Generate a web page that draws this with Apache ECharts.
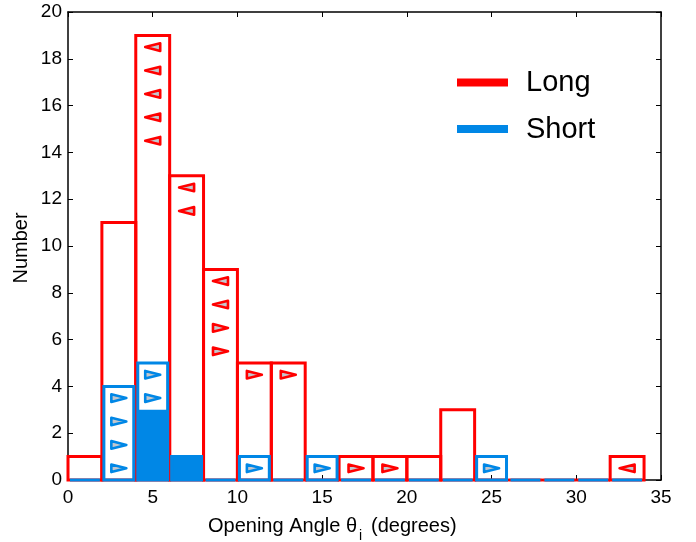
<!DOCTYPE html>
<html><head><meta charset="utf-8">
<script src="https://cdn.jsdelivr.net/npm/echarts@6.0.0/dist/echarts.min.js"></script>
<style>html,body{margin:0;padding:0;background:#fff}#c{width:696px;height:542px}</style>
</head><body><div id="c"></div>
<script>
// Histogram bins (degrees), width 2
const binStarts = [0,2,4,6,8,10,12,14,16,18,20,22,24,26,28,30,32];
const binWidth = 2;
const longCounts    = [1,11,19,13,9,5,5,0,1,1,1,3,0,0,0,0,1];
const shortCounts   = [0,4,5,1,0,1,0,1,0,0,0,0,1,0,0,0,0];
const shortDetected = [0,0,3,1,0,0,0,0,0,0,0,0,0,0,0,0,0];
// Limit markers (x = bin centre, y = height, dir L/R)
const longLimitX   = [5,5,5,5,5,7,7,9,9,9,9,11,13,17,19,33];
const longLimitY   = [18.5,17.5,16.5,15.5,14.5,12.5,11.5,8.5,7.5,6.5,5.5,4.5,4.5,0.5,0.5,0.5];
const longLimitDir = ['L','L','L','L','L','L','L','L','L','R','R','R','R','R','R','L'];
const shortLimitX   = [3,3,3,3,5,5,11,15,25];
const shortLimitY   = [3.5,2.5,1.5,0.5,4.5,3.5,0.5,0.5,0.5];
const shortLimitDir = ['R','R','R','R','R','R','R','R','R'];
const xTicks = [0,5,10,15,20,25,30,35];
const yTicks = [0,2,4,6,8,10,12,14,16,18,20];

const RED = '#ff0000', BLUE = '#0087e6', FONT = '"Liberation Sans", Arial, sans-serif';

function barData(counts){ return binStarts.map((s,i)=>[s, s+binWidth, counts[i]]); }
function barRender(stroke, fill, inset, lw){
  return function(params, api){
    const p0 = api.coord([api.value(0), 0]);
    const p1 = api.coord([api.value(1), api.value(2)]);
    return {type:'rect', shape:{x:p0[0]+inset, y:p1[1], width:p1[0]-p0[0]-2*inset, height:p0[1]-p1[1]},
      style:{fill:fill, stroke:stroke, lineWidth:lw}};
  };
}
function arrowData(xs, ys, ds){ return xs.map((x,i)=>[x, ys[i], ds[i]==='L'?-1:1]); }
function arrowRender(stroke){
  return function(params, api){
    const c = api.coord([api.value(0), api.value(1)]);
    const d = api.value(2);
    const tip = c[0] + d*7.5, base = c[0] - d*7.5;
    return {type:'polygon', shape:{points:[[tip,c[1]],[base,c[1]-3.8],[base,c[1]+3.8]]},
      style:{fill:'#c3c7cd', stroke:stroke, lineWidth:2.6, lineJoin:'round'}};
  };
}

const ctx = document.createElement('canvas').getContext('2d');
ctx.font = '20px ' + FONT;
const t1 = 'Opening Angle θ';
const w1 = ctx.measureText(t1).width;
const titleLeft = 208, titleY = 526;

const chart = echarts.init(document.getElementById('c'), null, {renderer:'canvas'});
function axisCommon(){ return {
  axisLine:{show:true, onZero:false, lineStyle:{color:'#000', width:1.5}},
  axisTick:{show:true, inside:true, length:5, lineStyle:{color:'#000', width:1}},
  splitLine:{show:false}
};}
chart.setOption({
  animation:false,
  backgroundColor:'#fff',
  grid:{left:68, right:35, top:12, bottom:62},
  xAxis:[
    Object.assign({type:'value', min:0, max:35, interval:5, position:'bottom',
      axisLabel:{fontSize:19, color:'#000', fontFamily:FONT, margin:8}}, axisCommon()),
    Object.assign({type:'value', min:0, max:35, interval:5, position:'top',
      axisLabel:{show:false}}, axisCommon())
  ],
  yAxis:[
    Object.assign({type:'value', min:0, max:20, interval:2, position:'left',
      axisLabel:{fontSize:19, color:'#000', fontFamily:FONT, margin:6}}, axisCommon()),
    Object.assign({type:'value', min:0, max:20, interval:2, position:'right',
      axisLabel:{show:false}}, axisCommon())
  ],
  series:[
    {type:'custom', name:'Long', data:barData(longCounts), renderItem:barRender(RED,'none',0,3), z:2},
    {type:'custom', name:'ShortDet', data:barData(shortDetected).filter(d=>d[2]>0), renderItem:barRender(null,BLUE,2,0), z:3},
    {type:'custom', name:'Short', data:barData(shortCounts), renderItem:barRender(BLUE,'none',2,3), z:4},
    {type:'custom', name:'LongLim', data:arrowData(longLimitX,longLimitY,longLimitDir), renderItem:arrowRender(RED), z:5},
    {type:'custom', name:'ShortLim', data:arrowData(shortLimitX,shortLimitY,shortLimitDir), renderItem:arrowRender(BLUE), z:5}
  ],
  graphic:[
    {type:'rect', shape:{x:457, y:78.5, width:51, height:8}, style:{fill:RED}},
    {type:'text', x:526, y:83, style:{text:'Long', fontSize:29, fontFamily:FONT, fill:'#000', verticalAlign:'middle'}},
    {type:'rect', shape:{x:457, y:125, width:51, height:8}, style:{fill:BLUE}},
    {type:'text', x:526, y:130, style:{text:'Short', fontSize:29, fontFamily:FONT, fill:'#000', verticalAlign:'middle'}},
    {type:'text', x:21, y:248, rotation:Math.PI/2, style:{text:'Number', fontSize:20, fontFamily:FONT, fill:'#000', align:'center', verticalAlign:'middle'}},
    {type:'text', x:titleLeft, y:titleY, style:{text:t1, fontSize:20, fontFamily:FONT, fill:'#000', verticalAlign:'middle'}},
    {type:'text', x:titleLeft + w1 + 2, y:titleY + 10, style:{text:'i', fontSize:14, fontFamily:FONT, fill:'#000', verticalAlign:'middle'}},
    {type:'text', x:titleLeft + w1 + 14, y:titleY, style:{text:'(degrees)', fontSize:20, fontFamily:FONT, fill:'#000', verticalAlign:'middle'}}
  ]
});
</script></body></html>
